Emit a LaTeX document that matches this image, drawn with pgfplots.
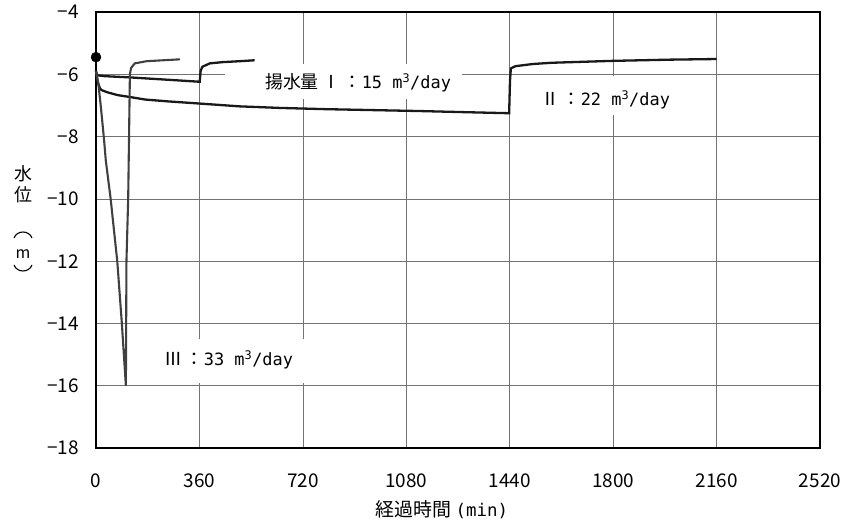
\documentclass[border=0pt]{standalone}
\usepackage{pgfplots}
\pgfplotsset{compat=1.18}
\usepackage{fontspec}
\setmainfont{Noto Sans CJK JP}
\newfontfamily\mono{DejaVu Sans Mono}
\begin{document}
\begin{tikzpicture}
\path[use as bounding box] (0bp,0bp) rectangle (851bp,525bp);
\begin{axis}[
  at={(96bp,77bp)}, anchor=south west,
  scale only axis, width=724bp, height=436bp,
  xmin=0, xmax=2520, ymin=-18, ymax=-4,
  xtick={0,360,720,1080,1440,1800,2160,2520},
  ytick={-18,-16,-14,-12,-10,-8,-6,-4},
  xticklabels={0,360,720,1080,1440,1800,2160,2520},
  yticklabels={−18,−16,−14,−12,−10,−8,−6,−4},
  grid=major,
  grid style={black!55, line width=0.7bp},
  axis line style={black, line width=1.3bp},
  major tick length=0pt,
  tick label style={font=\fontsize{19}{19}\selectfont, inner sep=0pt},
  xticklabel style={anchor=base, yshift=-39bp},
  yticklabel style={anchor=east, xshift=-17bp},
  clip=false,
]
% white boxes behind labels
\node[fill=white, inner sep=0pt, minimum width=237bp, minimum height=35bp] at (axis cs:861,-6.232) {};
\node[fill=white, inner sep=0pt, minimum width=185bp, minimum height=39bp] at (axis cs:1780,-6.68) {};
\node[fill=white, inner sep=0pt, minimum width=170bp, minimum height=44bp] at (axis cs:449,-15.206) {};
% curve I : 15 m3/day
\addplot[black!90, line width=2.3bp] coordinates {
(0,-5.9) (3,-6.03) (30,-6.06) (118,-6.1) (240,-6.17) (361,-6.24)
(364,-5.9) (370,-5.76) (396,-5.65) (440,-5.61) (500,-5.58) (552,-5.55)};
% curve II : 22 m3/day
\addplot[black!90, line width=2.3bp] coordinates {
(0,-5.9) (3,-6.1) (8,-6.3) (14,-6.46) (20,-6.51) (40,-6.58) (76,-6.67)
(118,-6.73) (170,-6.81) (250,-6.87) (361,-6.94) (500,-7.03) (639,-7.08)
(800,-7.12) (1125,-7.18) (1300,-7.22) (1438,-7.25) (1441,-6.2) (1444,-5.81)
(1460,-5.74) (1520,-5.67) (1587,-5.63) (1795,-5.57) (2000,-5.53) (2160,-5.51)};
% curve III : 33 m3/day
\addplot[black!75, line width=2.1bp] coordinates {
(0,-5.9) (8,-6.3) (17,-7.05) (28,-8.1) (34,-8.76) (51,-10) (74,-12)
(90,-14) (104,-16) (106,-12) (112,-10) (115,-8) (118,-6) (122,-5.8)
(135,-5.65) (176,-5.58) (292,-5.52)};
% initial level marker
\addplot[only marks, mark=*, mark size=5bp, black] coordinates {(0,-5.45)};
% labels
\node[inner sep=0pt] at (axis cs:912,-6.28) {\fontsize{18}{18}\selectfont 揚水量\ Ⅰ\,：{\mono\fontsize{17}{17}\selectfont 15 m\textsuperscript{3}/day}};
\node[inner sep=0pt] at (axis cs:1775,-6.826) {\fontsize{18}{18}\selectfont Ⅱ\,：{\mono\fontsize{17}{17}\selectfont 22 m\textsuperscript{3}/day}};
\node[inner sep=0pt] at (axis cs:463,-15.17) {\fontsize{18}{18}\selectfont Ⅲ\,：{\mono\fontsize{17}{17}\selectfont 33 m\textsuperscript{3}/day}};
\end{axis}
% axis titles
\node[inner sep=0pt] at (442bp,15bp) {\fontsize{19}{19}\selectfont 経過時間\ {\mono\fontsize{17.5}{17.5}\selectfont (min)}};
\node[inner sep=0pt] at (23bp,351bp) {\fontsize{18}{18}\selectfont 水};
\node[inner sep=0pt] at (23bp,330bp) {\fontsize{18}{18}\selectfont 位};
\draw[line width=1.1bp] (14bp,287bp) .. controls (17bp,295bp) and (29bp,295bp) .. (32bp,287bp);
\node[inner sep=0pt] at (23bp,271bp) {\fontsize{16}{16}\selectfont m};
\draw[line width=1.1bp] (14bp,260bp) .. controls (17bp,252bp) and (29bp,252bp) .. (32bp,260bp);
\end{tikzpicture}
\end{document}
